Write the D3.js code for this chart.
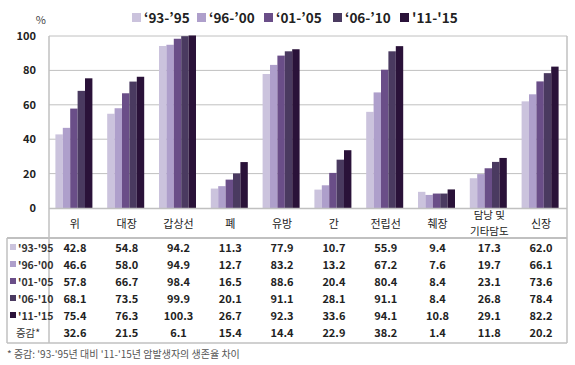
<!DOCTYPE html>
<html><head><meta charset="utf-8">
<script src="https://cdn.jsdelivr.net/npm/d3@7"></script>
<style>
body{margin:0;background:#fff;}
text{font-family:"Noto Sans CJK KR","Noto Sans",sans-serif;}
</style></head>
<body><svg id="c" width="575" height="365"></svg>
<script>
const categories = ["위","대장","갑상선","폐","유방","간","전립선","췌장","담낭 및\n기타담도","신장"];
const seriesNames = ["‘93-’95","‘96-’00","‘01-’05","‘06-’10","'11-'15"];
const tableRowNames = ["'93-'95","'96-'00","'01-'05","'06-'10","'11-'15"];
const s1 = [42.8,54.8,94.2,11.3,77.9,10.7,55.9,9.4,17.3,62.0];
const s2 = [46.6,58.0,94.9,12.7,83.2,13.2,67.2,7.6,19.7,66.1];
const s3 = [57.8,66.7,98.4,16.5,88.6,20.4,80.4,8.4,23.1,73.6];
const s4 = [68.1,73.5,99.9,20.1,91.1,28.1,91.1,8.4,26.8,78.4];
const s5 = [75.4,76.3,100.3,26.7,92.3,33.6,94.1,10.8,29.1,82.2];
const diff = [32.6,21.5,6.1,15.4,14.4,22.9,38.2,1.4,11.8,20.2];
const yTicks = [0,20,40,60,80,100];
const colors = ["#cbc3dd","#ae9fcb","#6a4e88","#4a3a60","#2a1239"];
const series = [s1,s2,s3,s4,s5];

const svg = d3.select("#c");
const L=49, R=567, T=36, B=208;
const x = d3.scaleBand().domain(d3.range(categories.length)).range([L,R]).paddingInner(0).paddingOuter(0);
const xi = d3.scaleBand().domain(d3.range(5)).range([0,37]);
const y = d3.scaleLinear().domain([0,100]).range([B,T]);
const grid="#c0c0c0";

svg.append("g").selectAll("line").data(yTicks.filter(d=>d>0)).join("line")
 .attr("x1",L).attr("x2",R).attr("y1",d=>y(d)).attr("y2",d=>y(d))
 .attr("stroke",grid).attr("stroke-width",1);

svg.append("g").selectAll("text").data(yTicks).join("text")
 .attr("x",36).attr("y",d=>y(d)+4).attr("text-anchor","end")
 .attr("font-size",11).attr("font-weight","bold").attr("fill","#222").text(d=>d);
svg.append("text").attr("x",46).attr("y",24).attr("text-anchor","end").attr("font-size",11).attr("fill","#444").text("%");

series.forEach((s,si)=>{
  svg.append("g").selectAll("rect").data(s).join("rect")
   .attr("x",(d,i)=>x(i)+ (x.bandwidth()-37)/2 - 1 + xi(si))
   .attr("y",d=>y(d)).attr("width",xi.bandwidth()).attr("height",d=>B-y(d))
   .attr("fill",colors[si]);
});

const frame = svg.append("g").attr("stroke",grid).attr("fill","none");
frame.append("line").attr("x1",L).attr("x2",R).attr("y1",B+0.5).attr("y2",B+0.5).attr("stroke-width",1.5);
frame.append("line").attr("x1",L).attr("x2",L).attr("y1",T).attr("y2",343).attr("stroke-width",1.5);
frame.append("line").attr("x1",R).attr("x2",R).attr("y1",T).attr("y2",343).attr("stroke-width",1.5);
frame.append("line").attr("x1",7).attr("x2",R).attr("y1",238).attr("y2",238).attr("stroke-width",2);
frame.append("line").attr("x1",7).attr("x2",R).attr("y1",343).attr("y2",343).attr("stroke-width",1.5);
frame.append("line").attr("x1",7).attr("x2",7).attr("y1",238).attr("y2",343).attr("stroke-width",1.5);

categories.forEach((c,i)=>{
  const lines=c.split("\n");
  const cx=x(i)+x.bandwidth()/2;
  if(lines.length===1){
    svg.append("text").attr("x",cx).attr("y",228).attr("text-anchor","middle")
     .attr("font-size",11).attr("fill","#222").text(c);
  } else {
    lines.forEach((ln,k)=>svg.append("text").attr("x",cx).attr("y",219+k*15.5).attr("text-anchor","middle")
     .attr("font-size",10.5).attr("fill","#222").text(ln));
  }
});

const rowY = [252,269,286,303,320,337];
const rows = series.concat([diff]);
rows.forEach((r,ri)=>{
  svg.append("g").selectAll("text").data(r).join("text")
   .attr("x",(d,i)=>x(i)+x.bandwidth()/2).attr("y",rowY[ri]).attr("text-anchor","middle")
   .attr("font-size",11).attr("font-weight","bold").attr("fill","#222").text(d=>d.toFixed(1));
});
tableRowNames.forEach((n,i)=>{
  svg.append("rect").attr("x",10).attr("y",rowY[i]-8).attr("width",6).attr("height",6).attr("fill",colors[i]);
  svg.append("text").attr("x",18).attr("y",rowY[i]).attr("font-size",10.5).attr("font-weight","bold").attr("fill","#333").text(n);
});
svg.append("text").attr("x",28).attr("y",rowY[5]).attr("text-anchor","middle").attr("font-size",10.5).attr("fill","#333").text("증감*");

svg.append("text").attr("x",7).attr("y",358).attr("font-size",10).attr("fill","#555")
 .text("* 증감: '93-'95년 대비 '11-'15년 암발생자의 생존율 차이");

const legX=[132,197,264,333,400];
seriesNames.forEach((n,i)=>{
  svg.append("rect").attr("x",legX[i]).attr("y",13).attr("width",9).attr("height",9).attr("fill",colors[i]);
  svg.append("text").attr("x",legX[i]+12).attr("y",23).attr("font-size",13.5).attr("font-weight","bold").attr("fill","#222").text(n);
});
</script></body></html>
